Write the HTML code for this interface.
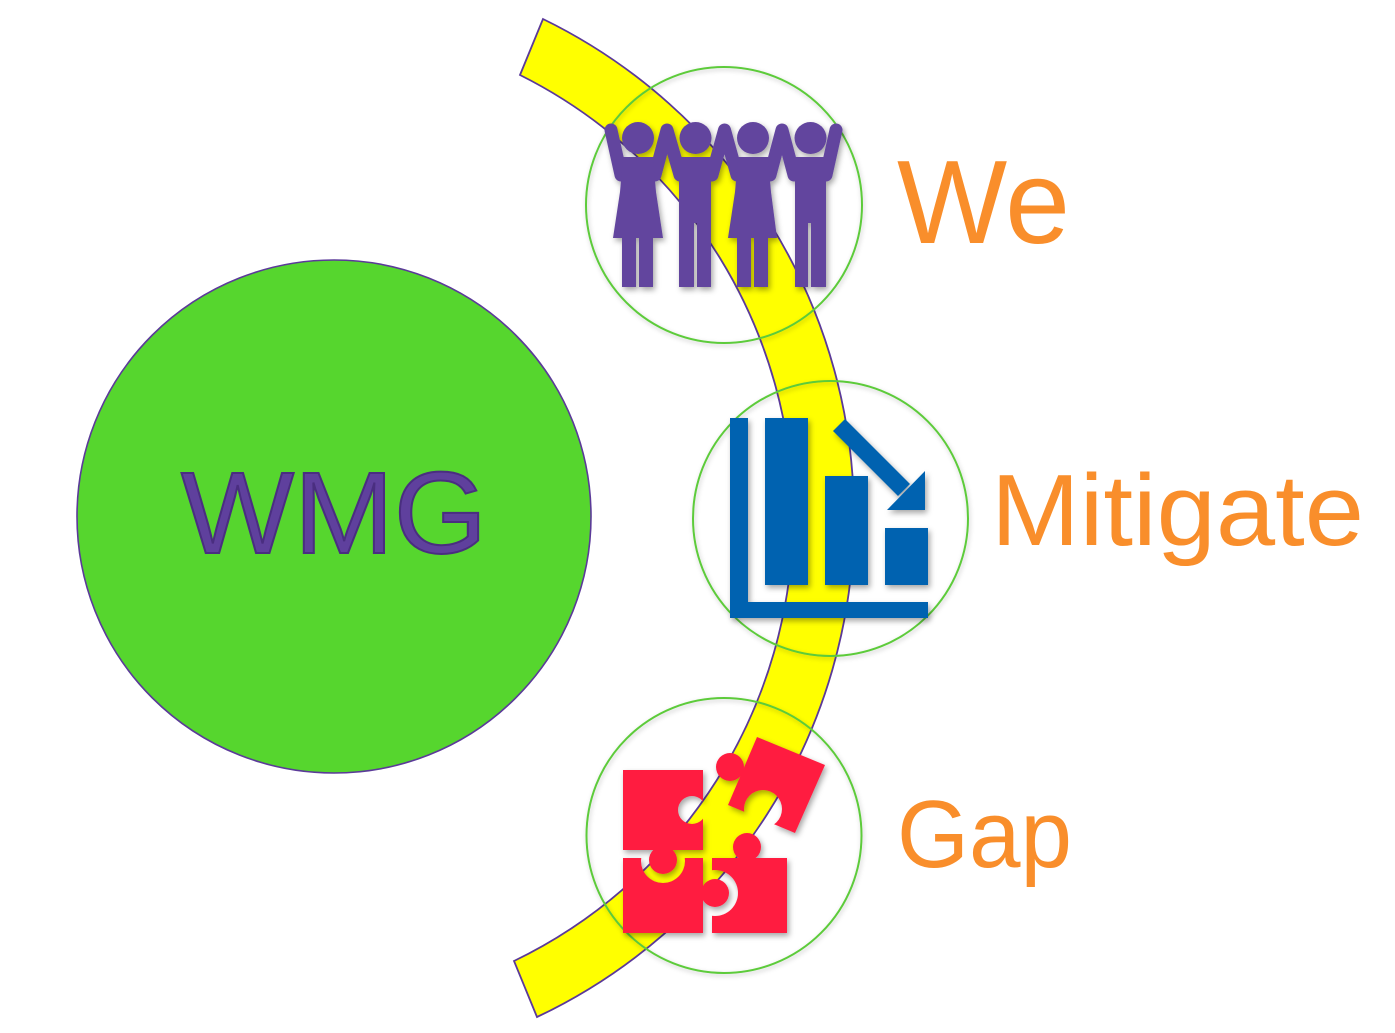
<!DOCTYPE html>
<html><head><meta charset="utf-8"><style>
html,body{margin:0;padding:0;background:#fff;}
svg{display:block;}
</style></head><body>
<svg width="1395" height="1033" viewBox="0 0 1395 1033" xmlns="http://www.w3.org/2000/svg">
<defs>
<filter id="sh" x="-20%" y="-20%" width="140%" height="140%"><feDropShadow dx="2" dy="3" stdDeviation="3" flood-color="#000" flood-opacity="0.35"/></filter>
<filter id="csh" x="-10%" y="-10%" width="120%" height="120%"><feDropShadow dx="1" dy="2" stdDeviation="2.5" flood-color="#000" flood-opacity="0.22"/></filter>
<mask id="mTL" maskUnits="userSpaceOnUse" x="0" y="0" width="1395" height="1033"><rect width="1395" height="1033" fill="#fff"/><circle cx="692" cy="810" r="14" fill="#000"/></mask>
<mask id="mBL" maskUnits="userSpaceOnUse" x="0" y="0" width="1395" height="1033"><rect width="1395" height="1033" fill="#fff"/><circle cx="663" cy="861" r="22" fill="#000"/></mask>
<mask id="mBR" maskUnits="userSpaceOnUse" x="0" y="0" width="1395" height="1033"><rect width="1395" height="1033" fill="#fff"/><circle cx="715" cy="893" r="23" fill="#000"/></mask>
<mask id="mTR" maskUnits="userSpaceOnUse" x="0" y="0" width="1395" height="1033"><rect width="1395" height="1033" fill="#fff"/><circle cx="763" cy="809" r="19" fill="#000"/></mask>
</defs>

<!-- big green circle -->
<ellipse cx="334" cy="516.5" rx="257" ry="256.5" fill="#56D62E" stroke="#5B3A99" stroke-width="1.6"/>

<!-- yellow arc band -->
<path d="M543,19 A553.5,553.5 0 0 1 537,1017 L514,961 A493.5,493.5 0 0 0 520,75 Z" fill="#FFFF00" stroke="#5B3A99" stroke-width="1.8"/>

<!-- small circles -->
<g fill="none" stroke="#5DCB3A" stroke-width="2" filter="url(#csh)">
<circle cx="724" cy="205" r="138"/>
<circle cx="830.5" cy="518.5" r="137.5"/>
<circle cx="724" cy="835.5" r="137.5"/>
</g>

<!-- people icon -->
<g fill="#62459E" filter="url(#sh)">
  <circle cx="638" cy="138" r="16"/>
  <circle cx="695.5" cy="138" r="16"/>
  <circle cx="753" cy="138" r="16"/>
  <circle cx="810.5" cy="138" r="16"/>
  <g stroke="#62459E" stroke-width="13" stroke-linecap="round" stroke-linejoin="round" fill="none">
    <line x1="621" y1="175" x2="611" y2="130"/>
    <polyline points="655,175 667,130 680,175"/>
    <polyline points="712,175 724.5,130 737,175"/>
    <polyline points="770,175 782,130 794,175"/>
    <line x1="826" y1="175" x2="836" y2="130"/>
  </g>
  <polygon points="623,157 653,157 656,192 663,238 613,238 620,192"/>
  <rect x="622" y="236" width="14" height="51"/>
  <rect x="639" y="236" width="14" height="51"/>
  <rect x="679" y="157" width="32" height="66"/>
  <rect x="679" y="220" width="15" height="67"/>
  <rect x="697" y="220" width="14" height="67"/>
  <polygon points="738,157 768,157 771,192 777,238 728,238 735,192"/>
  <rect x="737" y="236" width="14" height="51"/>
  <rect x="754" y="236" width="14" height="51"/>
  <rect x="795" y="157" width="31" height="66"/>
  <rect x="795" y="220" width="13" height="67"/>
  <rect x="811" y="220" width="15" height="67"/>
</g>

<!-- chart icon -->
<g fill="#0062B0" filter="url(#sh)">
  <rect x="730" y="418" width="18" height="200"/>
  <rect x="730" y="602" width="198" height="16"/>
  <rect x="765" y="418" width="43" height="167"/>
  <rect x="825" y="476" width="43" height="109"/>
  <rect x="885" y="528" width="43" height="57"/>
  <line x1="839" y1="425" x2="904" y2="490" stroke="#0062B0" stroke-width="17"/>
  <polygon points="925,471 925,510 887,510"/>
</g>

<!-- puzzle icon -->
<g fill="#FF1F40" filter="url(#sh)">
  <g mask="url(#mTL)"><rect x="623" y="770" width="80" height="80"/></g>
  <circle cx="663" cy="860" r="14"/>
  <g mask="url(#mBL)"><rect x="623" y="858" width="80" height="75"/></g>
  <circle cx="715" cy="893" r="14"/>
  <g mask="url(#mBR)"><rect x="712" y="858" width="75" height="75"/></g>
  <circle cx="747" cy="847" r="14"/>
  <g mask="url(#mTR)"><polygon points="757,737 825,765 795,833 728,805"/></g>
  <circle cx="730" cy="767" r="14"/>
</g>

<!-- texts -->
<text x="181" y="553" font-family="Liberation Sans, sans-serif" font-size="116" fill="#5F409D" stroke="#4A2E80" stroke-width="2" textLength="306" lengthAdjust="spacingAndGlyphs">WMG</text>
<g font-family="Liberation Sans, sans-serif" fill="#F98E2B">
<text x="897" y="243" font-size="119" textLength="173" lengthAdjust="spacingAndGlyphs">We</text>
<text x="991" y="545" font-size="101" textLength="373" lengthAdjust="spacingAndGlyphs">Mitigate</text>
<text x="897" y="867" font-size="96" textLength="175" lengthAdjust="spacingAndGlyphs">Gap</text>
</g>
</svg>
</body></html>
